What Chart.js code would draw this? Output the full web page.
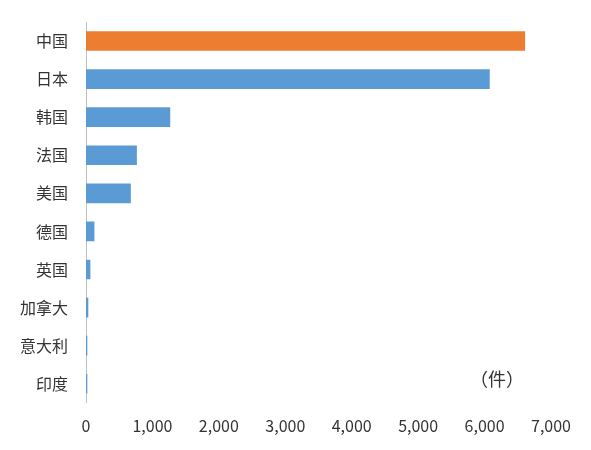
<!DOCTYPE html>
<html><head><meta charset="utf-8">
<script src="https://cdn.jsdelivr.net/npm/chart.js@4"></script>
<style>html,body{margin:0;background:#fff}#wrap{width:591px;height:450px;position:relative}</style>
</head><body><div id="wrap"><canvas id="c"></canvas></div>
<script>
const countries = ['中国','日本','韩国','法国','美国','德国','英国','加拿大','意大利','印度'];
const counts = [6605, 6073, 1263, 761, 670, 122, 61, 30, 15, 15];
const xTicks = [0,1000,2000,3000,4000,5000,6000,7000];

const unitLabel = {
  id: 'unitLabel',
  afterDraw(chart) {
    const ctx = chart.ctx;
    ctx.save();
    ctx.font = '18px "Noto Sans CJK SC"';
    ctx.fillStyle = '#333';
    ctx.textAlign = 'center';
    ctx.textBaseline = 'middle';
    ctx.fillText('（件）', 497, 379);
    ctx.restore();
  }
};

new Chart(document.getElementById('c'), {
  type: 'bar',
  data: {
    labels: countries,
    datasets: [{
      data: counts,
      backgroundColor: countries.map((c, i) => i === 0 ? '#ed7d31' : '#5b9bd5'),
      barThickness: 19
    }]
  },
  options: {
    indexAxis: 'y',
    responsive: true,
    maintainAspectRatio: false,
    animation: false,
    layout: { padding: { top: 22, right: 40, bottom: 8, left: 10 } },
    plugins: { legend: { display: false }, tooltip: { enabled: false } },
    scales: {
      x: {
        min: 0, max: 7000,
        afterBuildTicks: s => { s.ticks = xTicks.map(v => ({ value: v })); },
        grid: { display: false },
        border: { display: false },
        ticks: { color: '#333', font: { size: 16, family: 'Noto Sans CJK SC' }, padding: 6 }
      },
      y: {
        grid: { display: false },
        border: { color: '#bfbfbf' },
        ticks: { color: '#333', font: { size: 16, family: 'Noto Sans CJK SC' }, padding: 10 }
      }
    }
  },
  plugins: [unitLabel]
});
</script></body></html>
